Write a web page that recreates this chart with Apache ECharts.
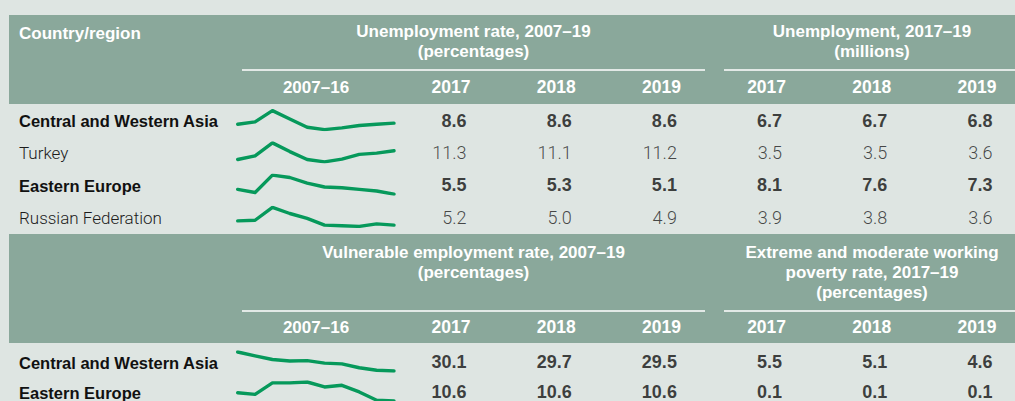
<!DOCTYPE html>
<html>
<head>
<meta charset="utf-8">
<title>Labour market indicators, Central and Western Asia and Eastern Europe</title>
<script src="https://cdn.jsdelivr.net/npm/echarts@6/dist/echarts.min.js"></script>
<style>
  html, body { margin: 0; padding: 0; background: #dee5e2; }
  #chart { width: 1015px; height: 401px; }
</style>
</head>
<body>
<div id="chart"></div>
<script>
// column headers of the number columns (3 left + 3 right)
const yearCols = ['2017', '2018', '2019', '2017', '2018', '2019']
const trendYears = ['2007', '2008', '2009', '2010', '2011', '2012', '2013', '2014', '2015', '2016']

// upper table: unemployment
const topRows = ['Central and Western Asia', 'Turkey', 'Eastern Europe', 'Russian Federation']
const topRowsBold = [true, false, true, false]
const unemploymentRate = [
  [8.6, 8.6, 8.6],
  [11.3, 11.1, 11.2],
  [5.5, 5.3, 5.1],
  [5.2, 5.0, 4.9]
]
const unemploymentMillions = [
  [6.7, 6.7, 6.8],
  [3.5, 3.5, 3.6],
  [8.1, 7.6, 7.3],
  [3.9, 3.8, 3.6]
]
// unemployment rate 2007-16 (sparklines)
const unemploymentTrend = [
  [9.1, 9.5, 11.4, 10.0, 8.6, 8.2, 8.5, 8.9, 9.1, 9.3],
  [9.8, 10.7, 14.0, 11.8, 9.8, 9.2, 9.9, 11.1, 11.4, 12.0],
  [6.2, 5.8, 8.0, 7.7, 7.0, 6.5, 6.4, 6.2, 6.0, 5.6],
  [6.1, 6.2, 8.3, 7.3, 6.5, 5.4, 5.3, 5.2, 5.6, 5.4]
]

// lower table: vulnerable employment and working poverty
const bottomRows = ['Central and Western Asia', 'Eastern Europe']
const bottomRowsBold = [true, true]
const vulnerableRate = [
  [30.1, 29.7, 29.5],
  [10.6, 10.6, 10.6]
]
const workingPovertyRate = [
  [5.5, 5.1, 4.6],
  [0.1, 0.1, 0.1]
]
const vulnerableTrend = [
  [35.6, 34.5, 33.5, 33.1, 33.2, 32.5, 32.3, 31.2, 30.5, 30.3],
  [11.7, 11.5, 12.9, 12.9, 13.0, 12.4, 12.6, 11.8, 10.8, 10.7]
]

// ---- layout / styles ----
const HEAD_BG = '#8aa89b'
const BG = '#dee5e2'
const GREEN = '#06995b'
const BOLD_FONT = 'Liberation Sans'
const LIGHT_FONT = 'Roboto'

const tableLeft = 398.4
const tableWidth = 631.2
const sparkLeft = 237.7
const sparkWidth = 156.3

const topTable = { top: 105, height: 129, yearY: 87 }
const bottomTable = { top: 347.5, height: 60, yearY: 327 }

const boldLabel = {
  fontFamily: BOLD_FONT, fontWeight: 'bold', fontSize: 18, color: '#111'
}
const lightLabel = {
  fontFamily: LIGHT_FONT, fontWeight: 300, fontSize: 18, color: '#1c1c1c'
}

const grids = []
const xAxes = []
const yAxes = []
const series = []

const addTable = (tbl, rows, bold, left, right) => {
  const idx = grids.length
  grids.push({ left: tableLeft, width: tableWidth, top: tbl.top, height: tbl.height, outerBoundsMode: 'none' })
  xAxes.push({
    gridIndex: idx,
    type: 'category',
    position: 'top',
    data: yearCols.map((y, i) => y + '_' + i),
    axisLine: { show: false },
    axisTick: { show: false },
    splitLine: { show: false },
    axisLabel: {
      interval: 0,
      margin: tbl.top - tbl.yearY - 8.5,
      formatter: (v, i) => yearCols[i],
      color: '#fff',
      fontFamily: BOLD_FONT,
      fontWeight: 'bold',
      fontSize: 17.5
    }
  })
  yAxes.push({
    gridIndex: idx,
    type: 'category',
    inverse: true,
    data: rows,
    axisLine: { show: false },
    axisTick: { show: false },
    splitLine: { show: false },
    axisLabel: {
      interval: 0,
      align: 'left',
      margin: tableLeft - 19,
      formatter: (v, i) => (bold[i] ? '{b|' : '{r|') + v + '}',
      rich: {
        b: { fontFamily: BOLD_FONT, fontWeight: 'bold', fontSize: 16.5, color: '#111' },
        r: { fontFamily: LIGHT_FONT, fontWeight: 300, fontSize: 17, color: '#1c1c1c' }
      }
    }
  })
  const data = []
  rows.forEach((name, r) => {
    left[r].concat(right[r]).forEach((v, c) => {
      data.push({ value: [c, r, v], label: bold[r] ? boldLabel : lightLabel })
    })
  })
  series.push({
    type: 'scatter',
    xAxisIndex: idx,
    yAxisIndex: idx,
    symbolSize: 1,
    itemStyle: { color: 'rgba(0,0,0,0)' },
    silent: true,
    data: data,
    label: {
      show: true,
      position: [16, 0],
      align: 'right',
      verticalAlign: 'middle',
      formatter: p => p.value[2].toFixed(1)
    }
  })
  // sparklines, one small grid per row
  const band = tbl.height / rows.length
  rows.forEach((name, r) => {
    const trend = tbl === topTable ? unemploymentTrend[r] : vulnerableTrend[r]
    const g = grids.length
    grids.push({
      left: sparkLeft, width: sparkWidth,
      top: tbl.top + band * (r + 0.5) - 10.5, height: 19,
      outerBoundsMode: 'none'
    })
    xAxes.push({ gridIndex: g, type: 'category', boundaryGap: false, data: trendYears, show: false })
    yAxes.push({ gridIndex: g, type: 'value', min: 'dataMin', max: 'dataMax', scale: true, show: false })
    series.push({
      type: 'line',
      xAxisIndex: g,
      yAxisIndex: g,
      data: trend,
      showSymbol: false,
      silent: true,
      lineStyle: { color: GREEN, width: 3.4, cap: 'round', join: 'round' }
    })
  })
}

addTable(topTable, topRows, topRowsBold, unemploymentRate, unemploymentMillions)
addTable(bottomTable, bottomRows, bottomRowsBold, vulnerableRate, workingPovertyRate)

const headText = (x, y, text, align) => ({
  type: 'text',
  x: x,
  y: y,
  z: 50,
  silent: true,
  style: {
    text: text,
    fill: '#fff',
    font: 'bold 17px "' + BOLD_FONT + '"',
    textAlign: align || 'center',
    textVerticalAlign: 'middle',
    lineHeight: 20
  }
})
const rule = (x1, x2, y) => ({
  type: 'line',
  z: 50,
  silent: true,
  shape: { x1: x1, y1: y, x2: x2, y2: y },
  style: { stroke: '#fff', lineWidth: 1.5 }
})
const band = (y, h) => ({
  type: 'rect',
  z: -10,
  silent: true,
  shape: { x: 9, y: y, width: 1006, height: h },
  style: { fill: HEAD_BG }
})

const options = {
  animation: false,
  backgroundColor: BG,
  grid: grids,
  xAxis: xAxes,
  yAxis: yAxes,
  series: series,
  graphic: [
    band(15, 89),
    band(234, 109),
    headText(19, 33, 'Country/region', 'left'),
    headText(473.5, 41.5, 'Unemployment rate, 2007–19\n(percentages)'),
    headText(872, 41.5, 'Unemployment, 2017–19\n(millions)'),
    rule(242, 705, 70),
    rule(724, 1015, 70),
    headText(316, 87, '2007–16'),
    headText(473.5, 262, 'Vulnerable employment rate, 2007–19\n(percentages)'),
    headText(872, 272, 'Extreme and moderate working\npoverty rate, 2017–19\n(percentages)'),
    rule(242, 705, 311),
    rule(724, 1015, 311),
    headText(316, 327, '2007–16')
  ]
}

const myChart = echarts.init(document.getElementById('chart'), null, { renderer: 'svg' })
myChart.setOption(options)
</script>
</body>
</html>
